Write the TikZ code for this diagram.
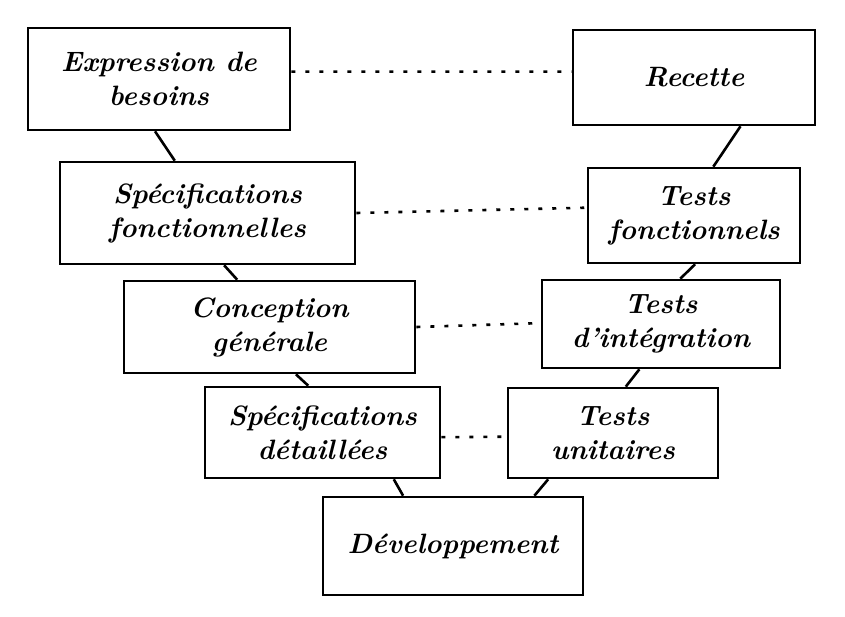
\documentclass[tikz,border=0pt]{standalone}
\usetikzlibrary{calc}
\begin{document}
\begin{tikzpicture}[x=1pt,y=-1pt,
  box/.style={draw, line width=2.6pt, align=center, inner sep=0pt, font=\fontsize{28}{34}\selectfont\bfseries\itshape},
  link/.style={line width=2.6pt},
  dotline/.style={line width=2.6pt, dash pattern=on 4pt off 10pt}]
\useasboundingbox (0,0) rectangle (845,616);
\node[box, minimum width=262pt, minimum height=102pt] (eb) at (159,79) {Expression de\\besoins};
\node[box, minimum width=242pt, minimum height=95pt] (re) at (694,77.5) {Recette};
\node[box, minimum width=295pt, minimum height=102pt] (sf) at (207.5,213) {Spécifications\\fonctionnelles};
\node[box, minimum width=212pt, minimum height=95pt] (tf) at (694,215.5) {Tests\\fonctionnels};
\node[box, minimum width=291pt, minimum height=92pt] (cg) at (269.5,327) {Conception\\générale};
\node[box, minimum width=238pt, minimum height=88pt] (ti) at (661,324) {Tests\\d'intégration};
\node[box, minimum width=235pt, minimum height=91pt] (sd) at (322.5,432.5) {Spécifications\\détaillées};
\node[box, minimum width=210pt, minimum height=90pt] (tu) at (613,433) {Tests\\unitaires};
\node[box, minimum width=260pt, minimum height=98pt] (dv) at (453,546) {Développement};
% solid links
\draw[link] ($(eb.south west)!0.485!(eb.south east)$) -- ($(sf.north west)!0.39!(sf.north east)$);
\draw[link] ($(re.south west)!0.69!(re.south east)$) -- ($(tf.north west)!0.59!(tf.north east)$);
\draw[link] ($(sf.south west)!0.556!(sf.south east)$) -- ($(cg.north west)!0.39!(cg.north east)$);
\draw[link] ($(tf.south west)!0.505!(tf.south east)$) -- ($(ti.north west)!0.58!(ti.north east)$);
\draw[link] ($(cg.south west)!0.59!(cg.south east)$) -- ($(sd.north west)!0.44!(sd.north east)$);
\draw[link] ($(ti.south west)!0.41!(ti.south east)$) -- ($(tu.north west)!0.56!(tu.north east)$);
\draw[link] ($(sd.south west)!0.80!(sd.south east)$) -- ($(dv.north west)!0.31!(dv.north east)$);
\draw[link] ($(tu.south west)!0.195!(tu.south east)$) -- ($(dv.north west)!0.81!(dv.north east)$);
% dotted links
\draw[dotline] ($(eb.north east)!0.43!(eb.south east)$) -- ($(re.north west)!0.44!(re.south west)$);
\draw[dotline] ($(sf.north east)!0.5!(sf.south east)$) -- ($(tf.north west)!0.42!(tf.south west)$);
\draw[dotline] ($(cg.north east)!0.5!(cg.south east)$) -- ($(ti.north west)!0.49!(ti.south west)$);
\draw[dotline] ($(sd.north east)!0.55!(sd.south east)$) -- ($(tu.north west)!0.54!(tu.south west)$);
\end{tikzpicture}
\end{document}
